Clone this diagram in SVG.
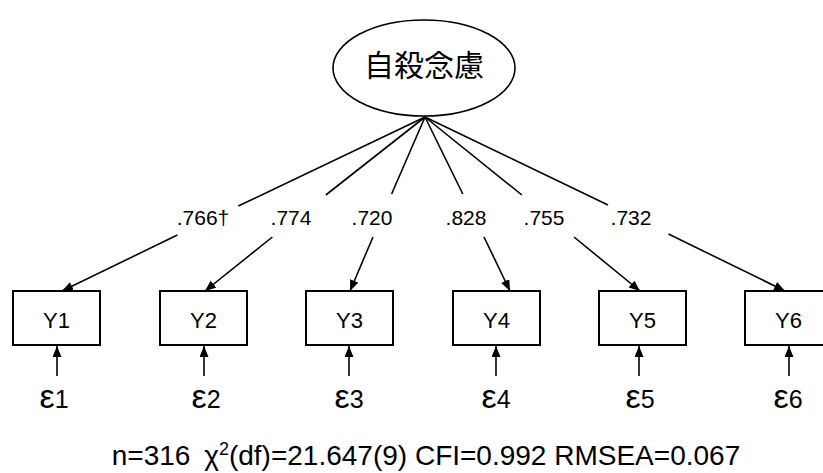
<svg xmlns="http://www.w3.org/2000/svg" width="823" height="473" viewBox="0 0 823 473">
<style>
  .bg { fill: #ffffff; }
  .node { fill: #ffffff; stroke: #000000; stroke-width: 2; }
  .lat { fill: #ffffff; stroke: #000000; stroke-width: 1.6; }
  .edge { fill: none; stroke: #000000; stroke-width: 1.6; }
  .txt { font-family: "Liberation Sans", Arial, "Noto Sans CJK JP", sans-serif; fill: #000000; }
  .jp { font-family: "Noto Sans CJK JP", "Noto Sans CJK SC", sans-serif; font-size: 30px; fill: #000000; }
  .load { font-size: 21px; }
  .yl { font-size: 22px; }
  .eps { font-size: 25px; }
  .epsg { font-size: 34px; }
  .fit { font-size: 28px; }
</style>
<defs>
  <marker id="ah" markerUnits="userSpaceOnUse" markerWidth="12" markerHeight="10" refX="11" refY="4.5" orient="auto">
    <path d="M0,0 L11,4.5 L0,9 z" fill="#000000"/>
  </marker>
</defs>
<rect class="bg" x="0" y="0" width="823" height="473"/>

<g id="connectors">
  <line class="edge" x1="425" y1="117" x2="238.3" y2="206"/>
  <line class="edge" x1="177.4" y1="235" x2="62" y2="291" marker-end="url(#ah)"/>
  <line class="edge" x1="425" y1="117" x2="325.8" y2="195"/>
  <line class="edge" x1="272.4" y1="237" x2="205" y2="291" marker-end="url(#ah)"/>
  <line class="edge" x1="425" y1="117" x2="391.6" y2="194"/>
  <line class="edge" x1="373" y1="237" x2="350" y2="291" marker-end="url(#ah)"/>
  <line class="edge" x1="425" y1="117" x2="462.8" y2="194"/>
  <line class="edge" x1="484" y1="237" x2="510" y2="291" marker-end="url(#ah)"/>
  <line class="edge" x1="425" y1="117" x2="521.9" y2="195"/>
  <line class="edge" x1="574" y1="237" x2="640" y2="291" marker-end="url(#ah)"/>
  <line class="edge" x1="425" y1="117" x2="608" y2="205"/>
  <line class="edge" x1="668.5" y1="234" x2="785" y2="291" marker-end="url(#ah)"/>
  <line class="edge" x1="57" y1="376" x2="57" y2="346" marker-end="url(#ah)"/>
  <line class="edge" x1="204" y1="376" x2="204" y2="346" marker-end="url(#ah)"/>
  <line class="edge" x1="349" y1="376" x2="349" y2="346" marker-end="url(#ah)"/>
  <line class="edge" x1="496" y1="376" x2="496" y2="346" marker-end="url(#ah)"/>
  <line class="edge" x1="639" y1="376" x2="639" y2="346" marker-end="url(#ah)"/>
  <line class="edge" x1="789" y1="376" x2="789" y2="346" marker-end="url(#ah)"/>
  <g class="txt load" text-anchor="middle">
    <text x="203" y="225">.766†</text>
    <text x="291" y="225">.774</text>
    <text x="372" y="225">.720</text>
    <text x="466" y="225">.828</text>
    <text x="544" y="225">.755</text>
    <text x="631" y="225">.732</text>
  </g>
</g>

<g id="latent">
  <ellipse class="lat" cx="424" cy="68" rx="91" ry="48"/>
  <text class="jp" x="424" y="76" text-anchor="middle">自殺念慮</text>
</g>

<g id="Y1"><rect class="node" x="13" y="291" width="87" height="54"/><text class="txt yl" x="56.5" y="328" text-anchor="middle">Y1</text></g>
<g id="Y2"><rect class="node" x="160" y="291" width="87" height="54"/><text class="txt yl" x="203.5" y="328" text-anchor="middle">Y2</text></g>
<g id="Y3"><rect class="node" x="306" y="291" width="87" height="54"/><text class="txt yl" x="349.5" y="328" text-anchor="middle">Y3</text></g>
<g id="Y4"><rect class="node" x="453" y="291" width="87" height="54"/><text class="txt yl" x="496.5" y="328" text-anchor="middle">Y4</text></g>
<g id="Y5"><rect class="node" x="599" y="291" width="87" height="54"/><text class="txt yl" x="642.5" y="328" text-anchor="middle">Y5</text></g>
<g id="Y6"><rect class="node" x="745" y="291" width="87" height="54"/><text class="txt yl" x="788.5" y="328" text-anchor="middle">Y6</text></g>

<g id="e1"><text class="txt eps" x="54" y="408" text-anchor="middle"><tspan class="epsg">ε</tspan>1</text></g>
<g id="e2"><text class="txt eps" x="206" y="408" text-anchor="middle"><tspan class="epsg">ε</tspan>2</text></g>
<g id="e3"><text class="txt eps" x="349" y="408" text-anchor="middle"><tspan class="epsg">ε</tspan>3</text></g>
<g id="e4"><text class="txt eps" x="496" y="408" text-anchor="middle"><tspan class="epsg">ε</tspan>4</text></g>
<g id="e5"><text class="txt eps" x="640" y="408" text-anchor="middle"><tspan class="epsg">ε</tspan>5</text></g>
<g id="e6"><text class="txt eps" x="788" y="408" text-anchor="middle"><tspan class="epsg">ε</tspan>6</text></g>

<g id="fit">
  <text class="txt fit" x="426" y="465" text-anchor="middle">n=316 <tspan dx="6">χ</tspan><tspan font-size="18" dy="-10">2</tspan><tspan dy="10">(df)=21.647(9) CFI=0.992 RMSEA=0.067</tspan></text>
</g>
</svg>
